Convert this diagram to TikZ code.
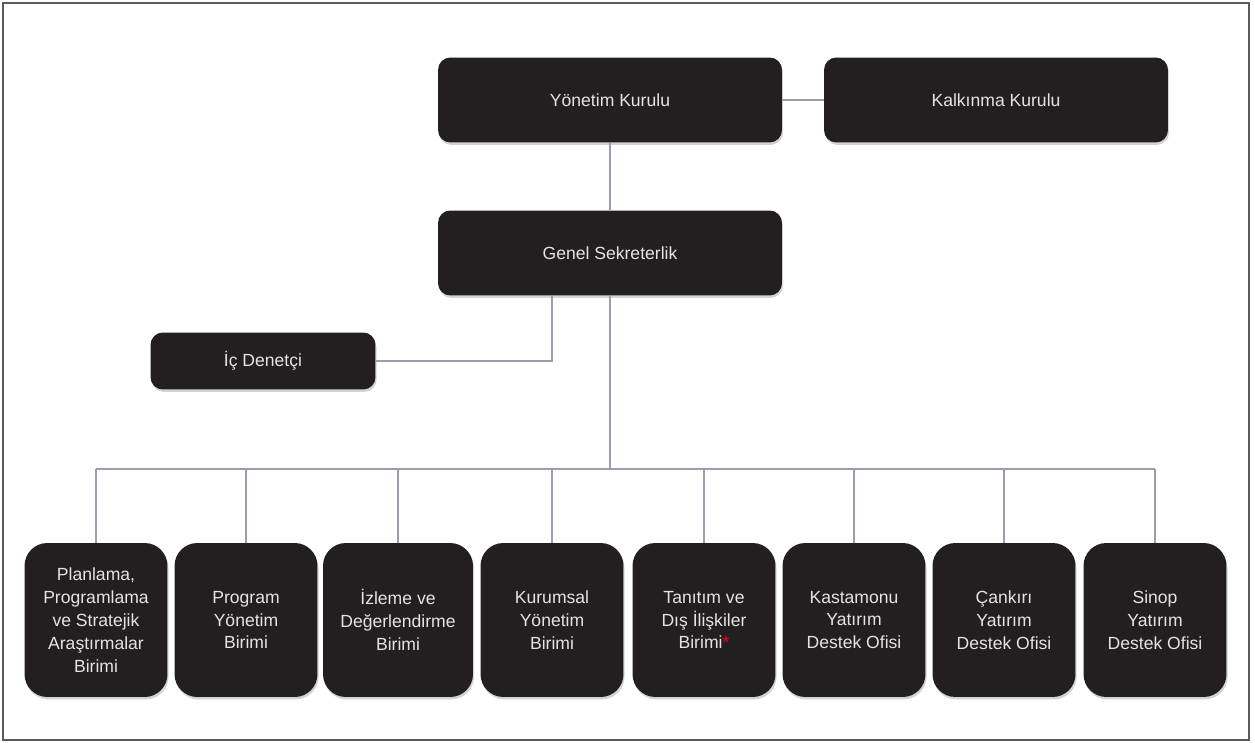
\documentclass[tikz,border=0pt]{standalone}
\usepackage{fontspec}
\setmainfont{Liberation Sans}
\usetikzlibrary{shadows}

\definecolor{boxfill}{HTML}{231F20}
\definecolor{boxtext}{HTML}{E4E4E4}
\definecolor{linkcol}{HTML}{9C9CAC}
\definecolor{framecol}{HTML}{5A5A5A}

\tikzset{
  unit/.style={draw=none, fill=boxfill, text=boxtext, align=center,
    font=\fontsize{10}{13}\selectfont, inner sep=2pt,
    drop shadow={shadow xshift=0.6pt, shadow yshift=-1.4pt, opacity=0.35}},
  board/.style={unit, rounded corners=7pt, minimum width=6.88cm, minimum height=1.7cm},
  office/.style={unit, rounded corners=13pt, minimum width=2.86cm, minimum height=3.08cm},
  link/.style={draw=linkcol, line width=0.9pt}
}

\begin{document}
\begin{tikzpicture}[x=0.02cm, y=-0.02cm]
\useasboundingbox (0,0) rectangle (1255,743);
\draw[framecol, line width=1.1pt] (3,3) rectangle (1249,740);

% top level
\node[board] (YK) at (610, 100) {Yönetim Kurulu};
\node[board] (KK) at (996, 100) {Kalkınma Kurulu};
\node[board] (GS) at (610, 253) {Genel Sekreterlik};
\node[board, minimum width=4.5cm, minimum height=1.14cm] (ID) at (263, 361) {İç Denetçi};

% units
\node[office] (PPS) at (96, 620) {Planlama,\\Programlama\\ve Stratejik\\Araştırmalar\\Birimi};
\node[office] (PYB) at (246, 620) {Program\\Yönetim\\Birimi};
\node[office, minimum width=3cm] (IDB) at (398, 620) {İzleme ve\\Değerlendirme\\Birimi};
\node[office] (KYB) at (552, 620) {Kurumsal\\Yönetim\\Birimi};
\node[office] (TDB) at (704, 620) {Tanıtım ve\\Dış İlişkiler\\Birimi{\color{red}*}};
\node[office] (KYO) at (854, 620) {Kastamonu\\Yatırım\\Destek Ofisi};
\node[office] (CYO) at (1004, 620) {Çankırı\\Yatırım\\Destek Ofisi};
\node[office] (SYO) at (1155, 620) {Sinop\\Yatırım\\Destek Ofisi};

\coordinate (busL) at (96, 469);
\coordinate (busR) at (1155, 469);
\coordinate (IDturn) at (552, 361);

% connectors
\draw[link] (YK) -- (KK);
\draw[link] (YK) -- (GS);
\draw[link] (GS.south -| IDturn) -- (IDturn) -- (ID);
\draw[link] (GS) -- (GS |- busL);
\draw[link] (busL) -- (busR);
\foreach \u in {PPS,PYB,IDB,KYB,TDB,KYO,CYO,SYO}
  \draw[link] (\u.north) -- (\u.north |- busL);
\end{tikzpicture}
\end{document}
